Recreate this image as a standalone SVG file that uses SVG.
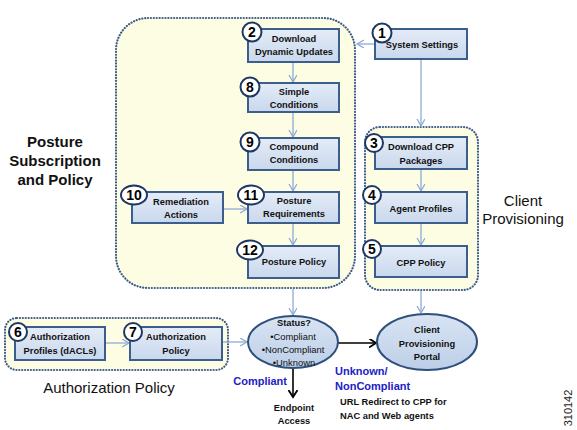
<svg xmlns="http://www.w3.org/2000/svg" width="577" height="430" viewBox="0 0 577 430">
<defs>
<linearGradient id="gBox" x1="0" y1="0" x2="0" y2="1">
<stop offset="0" stop-color="#e4ecf7"/>
<stop offset="1" stop-color="#c9d8ed"/>
</linearGradient>
<linearGradient id="gEll" x1="0" y1="0" x2="0" y2="1">
<stop offset="0" stop-color="#d9e4f3"/>
<stop offset="1" stop-color="#bccfe8"/>
</linearGradient>
<marker id="aB" markerUnits="userSpaceOnUse" markerWidth="10" markerHeight="10" refX="7" refY="4" orient="auto">
<path d="M0,0 L7,4 L0,8" fill="none" stroke="#8eaad4" stroke-width="1.3"/>
</marker>
<marker id="aK" markerUnits="userSpaceOnUse" markerWidth="10" markerHeight="10" refX="7" refY="4.5" orient="auto">
<path d="M0,0 L7,4.5 L0,9" fill="none" stroke="#000" stroke-width="1.8"/>
</marker>
</defs>
<style>
.cont{fill:#fdfde4;stroke:#3f5c88;stroke-width:2.2;stroke-dasharray:0.1 2.8;stroke-linecap:round}
.box{fill:url(#gBox);stroke:#3b5e8c;stroke-width:2}
.num{fill:#fff;stroke:#1f3763;stroke-width:2}
.nt{font-family:"Liberation Sans",Arial,sans-serif;font-weight:bold;font-size:14px;fill:#000;text-anchor:middle}
.bt{font-family:"Liberation Sans",Arial,sans-serif;font-weight:bold;font-size:9.3px;fill:#111;text-anchor:middle}
.bl{font-family:"Liberation Sans",Arial,sans-serif;font-weight:bold;font-size:9.3px;fill:#111;text-anchor:start}
.st{font-family:"Liberation Sans",Arial,sans-serif;font-size:9.4px;fill:#111;text-anchor:middle}
.big{font-family:"Liberation Sans",Arial,sans-serif;font-size:15px;fill:#111;text-anchor:middle}
.blue{font-family:"Liberation Sans",Arial,sans-serif;font-weight:bold;font-size:11px;fill:#2121c4}
.ell{fill:url(#gEll);stroke:#2f4f7c;stroke-width:2}
.cb{fill:none;stroke:#8eaad4;stroke-width:1.3;marker-end:url(#aB)}
.ck{fill:none;stroke:#000;stroke-width:1.6;marker-end:url(#aK)}
</style>
<rect width="577" height="430" fill="#fff"/>

<g id="posture-container">
<rect class="cont" x="116" y="18" width="239" height="270" rx="32"/>
<text class="big" x="55" y="147" font-weight="bold" font-size="14.5">Posture</text>
<text class="big" x="55" y="166" font-weight="bold" font-size="14.5">Subscription</text>
<text class="big" x="55" y="185" font-weight="bold" font-size="14.5">and Policy</text>
</g>
<g id="client-container">
<rect class="cont" x="365" y="127" width="113" height="163" rx="15"/>
<text class="big" x="523" y="206">Client</text>
<text class="big" x="523" y="224">Provisioning</text>
</g>
<g id="auth-container">
<rect class="cont" x="5" y="318" width="223" height="52" rx="12"/>
<text class="big" x="109" y="393">Authorization Policy</text>
</g>

<g id="connectors">
<line class="cb" x1="375" y1="44" x2="357" y2="44"/>
<line class="cb" x1="421" y1="59" x2="421" y2="126"/>
<line class="cb" x1="293" y1="62" x2="293" y2="82"/>
<line class="cb" x1="293" y1="112" x2="293" y2="137"/>
<line class="cb" x1="293" y1="170" x2="293" y2="191"/>
<line class="cb" x1="223" y1="209" x2="247" y2="209"/>
<line class="cb" x1="293" y1="223" x2="293" y2="245"/>
<line class="cb" x1="421" y1="169" x2="421" y2="191"/>
<line class="cb" x1="421" y1="223" x2="421" y2="245"/>
<line class="cb" x1="105" y1="343" x2="129" y2="343"/>
<line class="cb" x1="222" y1="342" x2="247" y2="342"/>
<line class="cb" x1="293" y1="289" x2="293" y2="315"/>
<line class="cb" x1="421" y1="291" x2="421" y2="313"/>
<line class="ck" x1="338" y1="343" x2="376" y2="343"/>
<line class="ck" x1="293" y1="368" x2="293" y2="397"/>
</g>

<g id="n1">
<rect class="box" x="375" y="29" width="92" height="30"/>
<text class="bt" x="422" y="48">System Settings</text>
<circle class="num" cx="382" cy="33" r="9.5"/>
<text class="nt" x="382" y="38">1</text>
</g>
<g id="n2">
<rect class="box" x="248" y="29" width="91" height="33"/>
<text class="bt" x="294" y="42">Download</text>
<text class="bt" x="294" y="55">Dynamic Updates</text>
<circle class="num" cx="252" cy="32" r="9.5"/>
<text class="nt" x="252" y="37">2</text>
</g>
<g id="n8">
<rect class="box" x="248" y="83" width="91" height="29"/>
<text class="bt" x="294" y="95">Simple</text>
<text class="bt" x="294" y="108">Conditions</text>
<circle class="num" cx="250" cy="87" r="9.5"/>
<text class="nt" x="250" y="92">8</text>
</g>
<g id="n9">
<rect class="box" x="248" y="138" width="91" height="32"/>
<text class="bt" x="294" y="150">Compound</text>
<text class="bt" x="294" y="163">Conditions</text>
<circle class="num" cx="250" cy="142" r="9.5"/>
<text class="nt" x="250" y="147">9</text>
</g>
<g id="n10">
<rect class="box" x="132" y="192" width="91" height="31"/>
<text class="bt" x="181" y="205">Remediation</text>
<text class="bt" x="181" y="218">Actions</text>
<ellipse class="num" cx="134" cy="195" rx="13" ry="9.5"/>
<text class="nt" x="134" y="200">10</text>
</g>
<g id="n11">
<rect class="box" x="248" y="192" width="91" height="31"/>
<text class="bt" x="294" y="204">Posture</text>
<text class="bt" x="294" y="217">Requirements</text>
<ellipse class="num" cx="251" cy="195" rx="13" ry="9.5"/>
<text class="nt" x="251" y="200">11</text>
</g>
<g id="n12">
<rect class="box" x="248" y="246" width="91" height="32"/>
<text class="bt" x="294" y="265">Posture Policy</text>
<ellipse class="num" cx="250" cy="250" rx="13" ry="9.5"/>
<text class="nt" x="250" y="255">12</text>
</g>
<g id="n3">
<rect class="box" x="375" y="137" width="92" height="32"/>
<text class="bt" x="421" y="150">Download CPP</text>
<text class="bt" x="421" y="164">Packages</text>
<circle class="num" cx="374" cy="143" r="9"/>
<text class="nt" x="374" y="148">3</text>
</g>
<g id="n4">
<rect class="box" x="375" y="192" width="92" height="31"/>
<text class="bt" x="421" y="212">Agent Profiles</text>
<circle class="num" cx="372" cy="195" r="9"/>
<text class="nt" x="372" y="200">4</text>
</g>
<g id="n5">
<rect class="box" x="375" y="246" width="92" height="31"/>
<text class="bt" x="421" y="266">CPP Policy</text>
<circle class="num" cx="372" cy="249" r="9"/>
<text class="nt" x="372" y="254">5</text>
</g>
<g id="n6">
<rect class="box" x="15" y="327" width="90" height="33"/>
<text class="bt" x="60" y="340">Authorization</text>
<text class="bt" x="60" y="354">Profiles (dACLs)</text>
<circle class="num" cx="18" cy="332" r="9"/>
<text class="nt" x="18" y="337">6</text>
</g>
<g id="n7">
<rect class="box" x="130" y="327" width="92" height="33"/>
<text class="bt" x="176" y="340">Authorization</text>
<text class="bt" x="176" y="354">Policy</text>
<circle class="num" cx="133" cy="332" r="9"/>
<text class="nt" x="133" y="337">7</text>
</g>
<g id="status">
<ellipse class="ell" cx="293" cy="342" rx="45" ry="26"/>
<text class="bt" x="294" y="326">Status?</text>
<text class="st" x="293" y="340">•Compliant</text>
<text class="st" x="293" y="353">•NonCompliant</text>
<text class="st" x="294" y="366">•Unknown</text>
</g>
<g id="portal">
<ellipse class="ell" cx="427" cy="342" rx="50" ry="28"/>
<text class="bt" x="427" y="333">Client</text>
<text class="bt" x="427" y="347">Provisioning</text>
<text class="bt" x="427" y="360">Portal</text>
</g>
<g id="endpoint">
<text class="bt" x="294" y="411">Endpoint</text>
<text class="bt" x="294" y="424">Access</text>
</g>
<g id="labels">
<text class="blue" x="287" y="385" text-anchor="end">Compliant</text>
<text class="blue" x="335" y="375">Unknown/</text>
<text class="blue" x="335" y="390">NonCompliant</text>
<text class="bl" x="340" y="405">URL Redirect to CPP for</text>
<text class="bl" x="340" y="419">NAC and Web agents</text>
<text font-family="Liberation Sans,Arial,sans-serif" font-size="11" fill="#222" text-anchor="middle" transform="translate(572,408) rotate(-90)">310142</text>
</g>
</svg>
